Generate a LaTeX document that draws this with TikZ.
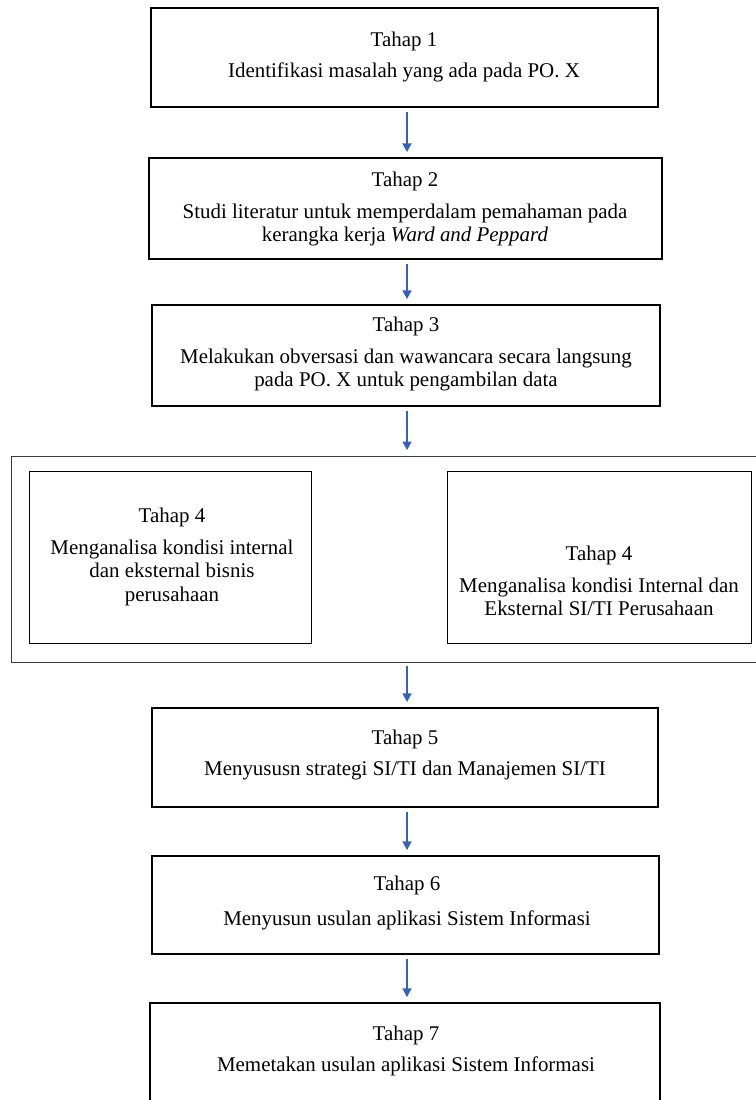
\documentclass[tikz,border=0pt]{standalone}
\usepackage{fontspec}
\setmainfont{Liberation Serif}
\usetikzlibrary{fit,arrows.meta}
\definecolor{arrowblue}{RGB}{52,98,184}
\definecolor{framegray}{RGB}{60,60,60}
\tikzset{
  box/.style={draw=black, line width=0.8pt, inner sep=0pt},
  outerbox/.style={draw=framegray, line width=0.6pt, inner sep=0pt},
  txt/.style={align=center, font=\fontsize{15.7}{17.6}\selectfont, inner sep=0pt},
  flow/.style={draw=arrowblue, line width=1.7pt, -{Triangle[length=6.5pt,width=6.5pt]}, shorten <=3pt, shorten >=4pt}
}
\begin{document}
\begin{tikzpicture}[x=0.75pt,y=-0.75pt]
\useasboundingbox (0,0) rectangle (756,1100);
% boxes
\node[box, fit={(151,8) (658,107)}] (b1) {};
\node[box, fit={(149,158) (662,259)}] (b2) {};
\node[box, fit={(152,305) (660,406)}] (b3) {};
\node[outerbox, fit={(11,456) (760,662)}] (b4) {};
\node[box, line width=0.6pt, fit={(29,471) (311,643)}] (b4a) {};
\node[box, line width=0.6pt, fit={(447,471) (751,643)}] (b4b) {};
\node[box, fit={(152,708) (658,807)}] (b5) {};
\node[box, fit={(152,856) (659,954)}] (b6) {};
\node[box, fit={(150,1003) (660,1110)}] (b7) {};
% texts
\node[txt] (t1) at (404,57) {Tahap 1\\[6.3pt]Identifikasi masalah yang ada pada PO. X};
\node[txt] (t2) at (405,209) {Tahap 2\\[6.3pt]Studi literatur untuk memperdalam pemahaman pada\\kerangka kerja \textit{Ward and Peppard}};
\node[txt] (t3) at (406,354) {Tahap 3\\[6.3pt]Melakukan obversasi dan wawancara secara langsung\\pada PO. X untuk pengambilan data};
\node[txt] (t4a) at (172,557) {Tahap 4\\[6.3pt]Menganalisa kondisi internal\\dan eksternal bisnis\\perusahaan};
\node[txt] (t4b) at (599,581) {Tahap 4\\[6.3pt]Menganalisa kondisi Internal dan\\Eksternal SI/TI Perusahaan};
\node[txt] (t5) at (405,755) {Tahap 5\\[6.3pt]Menyususn strategi SI/TI dan Manajemen SI/TI};
\node[txt] (t6) at (407,903) {Tahap 6\\[8.5pt]Menyusun usulan aplikasi Sistem Informasi};
\node[txt] (t7) at (406,1051) {Tahap 7\\[6.3pt]Memetakan usulan aplikasi Sistem Informasi};
% arrows
\coordinate (ax) at (407,0);
\draw[flow] (b1.south -| ax) -- (b2.north -| ax);
\draw[flow] (b2.south -| ax) -- (b3.north -| ax);
\draw[flow] (b3.south -| ax) -- (b4.north -| ax);
\draw[flow] (b4.south -| ax) -- (b5.north -| ax);
\draw[flow] (b5.south -| ax) -- (b6.north -| ax);
\draw[flow] (b6.south -| ax) -- (b7.north -| ax);
\end{tikzpicture}
\end{document}
